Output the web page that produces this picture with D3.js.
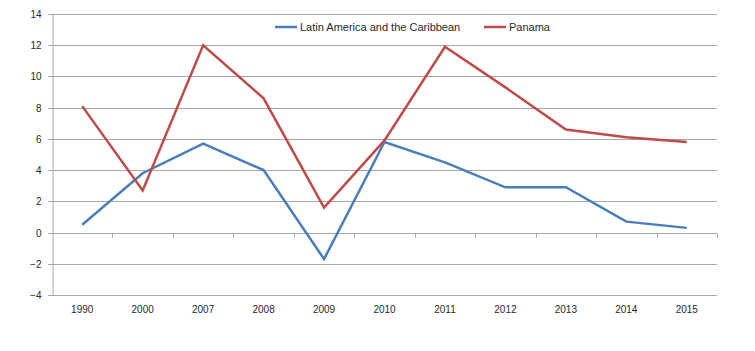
<!DOCTYPE html>
<html>
<head>
<meta charset="utf-8">
<script src="https://cdn.jsdelivr.net/npm/d3@7"></script>
<style>
  body { margin: 0; background: #fff; }
  text { font-family: "Liberation Sans", Arial, sans-serif; fill: #2a2a2a; }
</style>
</head>
<body>
<svg id="chart"></svg>
<script>
const years = ['1990', '2000', '2007', '2008', '2009', '2010', '2011', '2012', '2013', '2014', '2015'];
const latinAmerica = [0.5, 3.8, 5.7, 4.0, -1.7, 5.8, 4.5, 2.9, 2.9, 0.7, 0.3];
const panama = [8.1, 2.7, 12.0, 8.6, 1.6, 5.9, 11.9, 9.3, 6.6, 6.1, 5.8];
const yTicks = [-4, -2, 0, 2, 4, 6, 8, 10, 12, 14];

const series = [
  { name: 'Latin America and the Caribbean', values: latinAmerica, color: '#4a7ebb' },
  { name: 'Panama', values: panama, color: '#be4b48' }
];

const w = 755;
const h = 351;
const plotLeft = 52, plotRight = 717, plotTop = 14, plotBottom = 295;

const svg = d3.select('#chart')
  .attr('width', w)
  .attr('height', h);

const xScale = d3.scaleBand()
  .domain(years)
  .range([plotLeft, plotRight]);

const yScale = d3.scaleLinear()
  .domain([-4, 14])
  .range([plotBottom, plotTop]);

// gridlines
svg.append('g')
  .selectAll('line')
  .data(yTicks)
  .enter()
  .append('line')
  .attr('x1', plotLeft - 4)
  .attr('x2', plotRight)
  .attr('y1', d => Math.round(yScale(d)) + 0.5)
  .attr('y2', d => Math.round(yScale(d)) + 0.5)
  .attr('stroke', '#a6a6a6')
  .attr('stroke-width', 1);

// y axis
const yAxis = d3.axisLeft(yScale).tickValues(yTicks).tickSize(0).tickPadding(11);
const yg = svg.append('g')
  .attr('transform', `translate(${plotLeft + 0.5}, 0)`)
  .call(yAxis);
yg.select('.domain').attr('stroke', '#a6a6a6');
yg.selectAll('text').style('font-size', '10px').attr('dy', '0.35em');

// category axis sits on zero
const zeroY = Math.round(yScale(0)) + 0.5;
svg.append('g')
  .selectAll('line')
  .data(years)
  .enter()
  .append('line')
  .attr('x1', d => Math.round(xScale(d) + xScale.step()) + 0.5)
  .attr('x2', d => Math.round(xScale(d) + xScale.step()) + 0.5)
  .attr('y1', zeroY)
  .attr('y2', zeroY + 4)
  .attr('stroke', '#a6a6a6');

svg.append('g')
  .selectAll('text')
  .data(years)
  .enter()
  .append('text')
  .attr('x', d => xScale(d) + xScale.bandwidth() / 2)
  .attr('y', 313)
  .attr('text-anchor', 'middle')
  .style('font-size', '10px')
  .text(d => d);

// lines
const line = d3.line()
  .x((d, i) => xScale(years[i]) + xScale.bandwidth() / 2)
  .y(d => yScale(d));

series.forEach(s => {
  svg.append('path')
    .datum(s.values)
    .attr('fill', 'none')
    .attr('stroke', s.color)
    .attr('stroke-width', 2.5)
    .attr('stroke-linejoin', 'miter')
    .attr('d', line);
});

// legend
const legendX = [275, 484];
series.forEach((s, i) => {
  const g = svg.append('g').attr('transform', `translate(${legendX[i]}, 27)`);
  g.append('line')
    .attr('x1', 0).attr('x2', 22)
    .attr('stroke', s.color)
    .attr('stroke-width', 2.5);
  g.append('text')
    .attr('x', 25)
    .attr('dy', '0.35em')
    .style('font-size', '11px')
    .text(s.name);
});
</script>
</body>
</html>
